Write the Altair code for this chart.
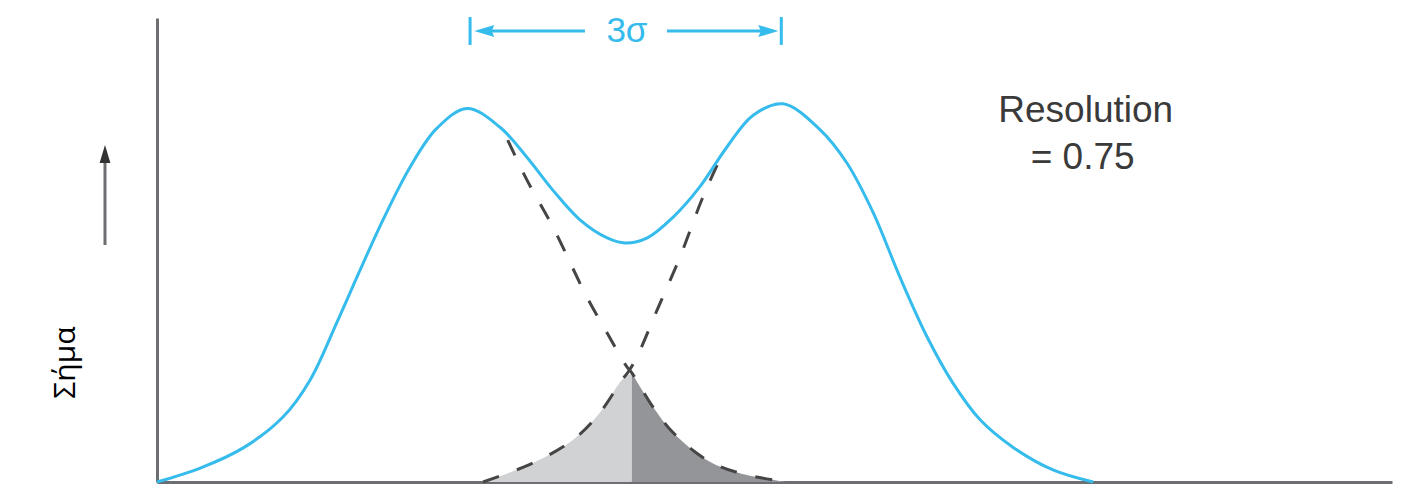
import altair as alt
import pandas as pd

# ---- data (time in arbitrary units 0-20, signal 0-1) ----
total_t = [0.0, 0.70, 1.39, 2.04, 2.48, 2.91, 3.29, 3.66, 4.10, 4.53, 5.02, 5.55, 5.99,
           6.41, 6.85, 7.29, 7.58, 7.94, 8.36, 8.79, 9.23, 9.65, 10.14, 10.74, 11.17,
           11.60, 12.03, 12.47, 12.89, 13.33, 13.86, 14.51, 15.16]
total_s = [0.0, 0.030, 0.073, 0.140, 0.220, 0.343, 0.457, 0.565, 0.679, 0.762, 0.805, 0.765,
           0.700, 0.629, 0.565, 0.526, 0.515, 0.526, 0.571, 0.636, 0.722, 0.790, 0.815,
           0.759, 0.688, 0.580, 0.442, 0.313, 0.213, 0.134, 0.075, 0.026, 0.0]

# right tail of the first peak (dashed)
peak1_t = [5.68, 5.99, 6.41, 6.96, 7.29, 7.61, 7.69, 8.03, 8.36, 8.91, 9.44, 10.20]
peak1_s = [0.737, 0.651, 0.550, 0.399, 0.321, 0.248, 0.235, 0.162, 0.106, 0.047, 0.019, 0.0]

# left tail of the second peak (dashed)
peak2_t = [5.28, 6.09, 6.74, 7.17, 7.53, 7.63, 7.77, 8.10, 8.47, 8.84, 9.20]
peak2_s = [0.0, 0.041, 0.091, 0.149, 0.220, 0.237, 0.269, 0.371, 0.485, 0.614, 0.720]

# overlap regions
light_t = [5.28, 6.09, 6.74, 7.17, 7.53, 7.69]
light_s = [0.0, 0.041, 0.091, 0.149, 0.220, 0.235]
dark_t = [7.69, 8.03, 8.36, 8.91, 9.44, 10.20]
dark_s = [0.235, 0.162, 0.106, 0.047, 0.019, 0.0]

# 3σ annotation (peak positions) and labels
sigma_t = [5.07, 10.11]
sigma_label = "3σ"
res_lines = ["Resolution", "= 0.75"]

BLUE = "#35bbec"
AXIS = "#6d6e71"
DASH = "#454545"

X = alt.Scale(domain=[0, 20], nice=False, zero=False)
Y = alt.Scale(domain=[0, 1], nice=False, zero=False)

x_axis = alt.Axis(domain=True, domainColor=AXIS, domainWidth=3, ticks=False,
                  labels=False, grid=False, title=None)
y_axis = alt.Axis(domain=True, domainColor=AXIS, domainWidth=3, ticks=False,
                  labels=False, grid=False, title="Σήμα", titleX=-92, titleY=344,
                  titleAngle=270, titleAlign="center", titleBaseline="middle",
                  titleFont="Open Sans", titleFontSize=30, titleFontWeight="normal",
                  titleColor="#000000")

df_total = pd.DataFrame({"t": total_t, "s": total_s})
df_p1 = pd.DataFrame({"t": peak1_t, "s": peak1_s})
df_p2 = pd.DataFrame({"t": peak2_t, "s": peak2_s})
df_light = pd.DataFrame({"t": light_t, "s": light_s})
df_dark = pd.DataFrame({"t": dark_t, "s": dark_s})

INTERP = "catmull-rom"

light = alt.Chart(df_light).mark_area(color="#d1d2d4", interpolate=INTERP).encode(
    x=alt.X("t:Q", scale=X, axis=x_axis), y=alt.Y("s:Q", scale=Y, axis=y_axis))
dark = alt.Chart(df_dark).mark_area(color="#939598", interpolate=INTERP).encode(
    x=alt.X("t:Q", scale=X), y=alt.Y("s:Q", scale=Y))
p1 = alt.Chart(df_p1).mark_line(color=DASH, strokeWidth=3, strokeDash=[17, 19],
                                interpolate=INTERP).encode(
    x=alt.X("t:Q", scale=X), y=alt.Y("s:Q", scale=Y))
p2 = alt.Chart(df_p2).mark_line(color=DASH, strokeWidth=3, strokeDash=[17, 19],
                                interpolate=INTERP).encode(
    x=alt.X("t:Q", scale=X), y=alt.Y("s:Q", scale=Y))
total = alt.Chart(df_total).mark_line(color=BLUE, strokeWidth=3,
                                      interpolate=INTERP).encode(
    x=alt.X("t:Q", scale=X), y=alt.Y("s:Q", scale=Y))

# 3σ bracket
df_bars = pd.DataFrame({"t": sigma_t, "y1": [0.942, 0.942], "y2": [1.002, 1.002]})
bars = alt.Chart(df_bars).mark_rule(color=BLUE, strokeWidth=3).encode(
    x=alt.X("t:Q", scale=X), y=alt.Y("y1:Q", scale=Y), y2="y2:Q")
df_arr = pd.DataFrame({"t": [5.30, 8.26], "t2": [6.93, 9.90], "y": [0.972, 0.972]})
arr = alt.Chart(df_arr).mark_rule(color=BLUE, strokeWidth=3).encode(
    x=alt.X("t:Q", scale=X), x2="t2:Q", y=alt.Y("y:Q", scale=Y))
LEFT_HEAD = "M-1,0 L1,-0.6 L0.75,0 L1,0.6 Z"
RIGHT_HEAD = "M1,0 L-1,-0.6 L-0.75,0 L-1,0.6 Z"
df_heads = pd.DataFrame({"t": [5.30, 9.90], "y": [0.972, 0.972],
                         "shape": [LEFT_HEAD, RIGHT_HEAD]})
heads = alt.Chart(df_heads).mark_point(filled=True, opacity=1, color=BLUE, size=400,
                                       strokeWidth=0).encode(
    x=alt.X("t:Q", scale=X), y=alt.Y("y:Q", scale=Y),
    shape=alt.Shape("shape:N", scale=None))
df_sig = pd.DataFrame({"t": [7.61], "y": [0.972], "txt": [sigma_label]})
sig = alt.Chart(df_sig).mark_text(font="Liberation Sans", fontSize=35, color=BLUE,
                                  align="center", baseline="middle").encode(
    x=alt.X("t:Q", scale=X), y=alt.Y("y:Q", scale=Y), text="txt:N")

df_res = pd.DataFrame({"t": [15.04, 14.99], "y": [0.800, 0.698], "txt": res_lines})
res = alt.Chart(df_res).mark_text(font="Liberation Sans", fontSize=37, color="#3a3a3a",
                                  align="center", baseline="middle").encode(
    x=alt.X("t:Q", scale=X), y=alt.Y("y:Q", scale=Y), text="txt:N")

# upward arrow next to the y axis
up_line = alt.Chart(pd.DataFrame({"a": [0]})).mark_rule(color=AXIS, strokeWidth=3).encode(
    x=alt.value(-52), y=alt.value(227), y2=alt.value(140))
up_head = alt.Chart(pd.DataFrame({"a": [0]})).mark_point(
    shape="M0,-1 L0.6,1 L-0.6,1 Z", filled=True, opacity=1, color="#333333",
    size=324, strokeWidth=0).encode(
    x=alt.value(-52), y=alt.value(136))

chart = alt.layer(light, dark, p1, p2, total, bars, arr, heads, sig, res, up_line, up_head).properties(
    width=1235, height=464,
    autosize=alt.AutoSizeParams(type="none"),
    padding={"left": 149, "top": 10, "right": 10, "bottom": 2},
).configure_view(stroke=None)

chart.save("out.html", embed_options={"renderer": "svg", "actions": False})
